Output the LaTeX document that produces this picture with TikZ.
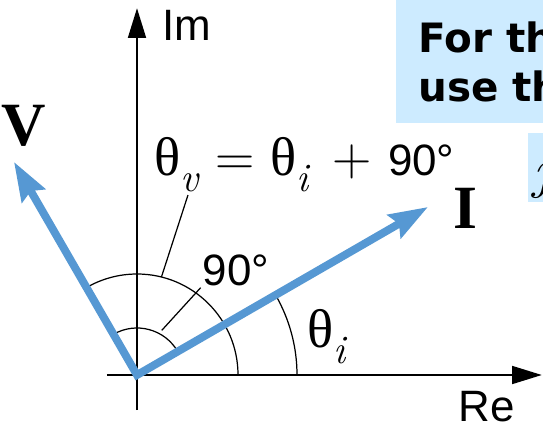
\documentclass[tikz,border=0pt]{standalone}
\usepackage{fontspec}
\setsansfont{Liberation Sans}
\newfontfamily\grk{Liberation Serif}
\newfontfamily\bxf{DejaVu Sans}
\usetikzlibrary{arrows.meta}
\definecolor{phb}{RGB}{86,152,211}
\definecolor{boxb}{RGB}{205,235,255}
\newcommand\sbx[1]{\raisebox{-0.3em}{\fontsize{23}{26}\selectfont\itshape #1}}
\tikzset{
  ax/.style={line width=1.7pt,-{Triangle[length=17pt,width=10pt]}},
  ph/.style={line width=4.5pt,phb,line join=miter,
    {Stealth[length=22pt,width=15pt,inset=3pt]}-{Stealth[length=22pt,width=15pt,inset=3pt]}},
  ang/.style={line width=0.7pt},
  ld/.style={line width=0.7pt},
  sf/.style={font=\sffamily\fontsize{25}{28}\selectfont,inner sep=1pt},
  bd/.style={font=\grk\bfseries\fontsize{35}{40}\selectfont,inner sep=0pt},
  mt/.style={font=\fontsize{31}{34}\selectfont,inner sep=0pt},
  bt/.style={font=\bxf\bfseries\fontsize{23}{26}\selectfont,inner sep=0pt},
}

\begin{document}
\begin{tikzpicture}
\clip (-2.74,-1.04) rectangle (8.12,7.5);
\coordinate (o) at (0,0); \coordinate (rl) at (-0.6,0); \coordinate (rr) at (8.1,0);
\coordinate (ib) at (0,-0.7); \coordinate (it) at (0,7.34);
\coordinate (v) at (120:4.92); \coordinate (i) at (30:6.72);
\coordinate (a1) at (76:2.02); \coordinate (a2) at (61:1.02); \coordinate (t1) at (1.02,3.6);
\fill[boxb] (5.18,5.04) rectangle (8.12,7.5); \fill[boxb] (7.82,3.46) rectangle (8.12,4.84);
\node[bt,anchor=base west] (f1) at (5.62,6.44) {For th};
\node[bt,anchor=base west] (f2) at (5.62,5.46) {use th};
\node[mt,anchor=base west] (jj) at (7.93,3.76) {\itshape j};
\draw[ang] (0:2.02) arc[start angle=0,end angle=120,radius=2.02];
\draw[ang] (30:0.94) arc[start angle=30,end angle=120,radius=0.94];
\draw[ang] (0:3.2) arc[start angle=0,end angle=30,radius=3.2];
\node[mt,anchor=base west] (tv) at (0.34,4.0)
  {{\grk θ}\sbx{v} = {\grk θ}\sbx{i}\hspace{4pt} + {\sffamily\fontsize{25}{28}\selectfont 90°}};
\node[mt,anchor=base west] (ti) at (3.4,0.56) {{\grk θ}\sbx{i}};
\node[sf] (n90) at (1.98,2.1) {90°};
\draw[ld] (t1) -- (a1); \draw[ld] (n90.south west) -- (a2);
\draw[ax] (rl) -- (rr); \draw[ax] (ib) -- (it);
\draw[ph] (v) -- (o) -- (i);
\node[bd] (vl) at (-2.26,4.98) {V}; \node[bd] (il) at (6.56,3.34) {I};
\node[sf] (im) at (1.0,7.0) {Im}; \node[sf] (re) at (7.0,-0.63) {Re};
\end{tikzpicture}
\end{document}
